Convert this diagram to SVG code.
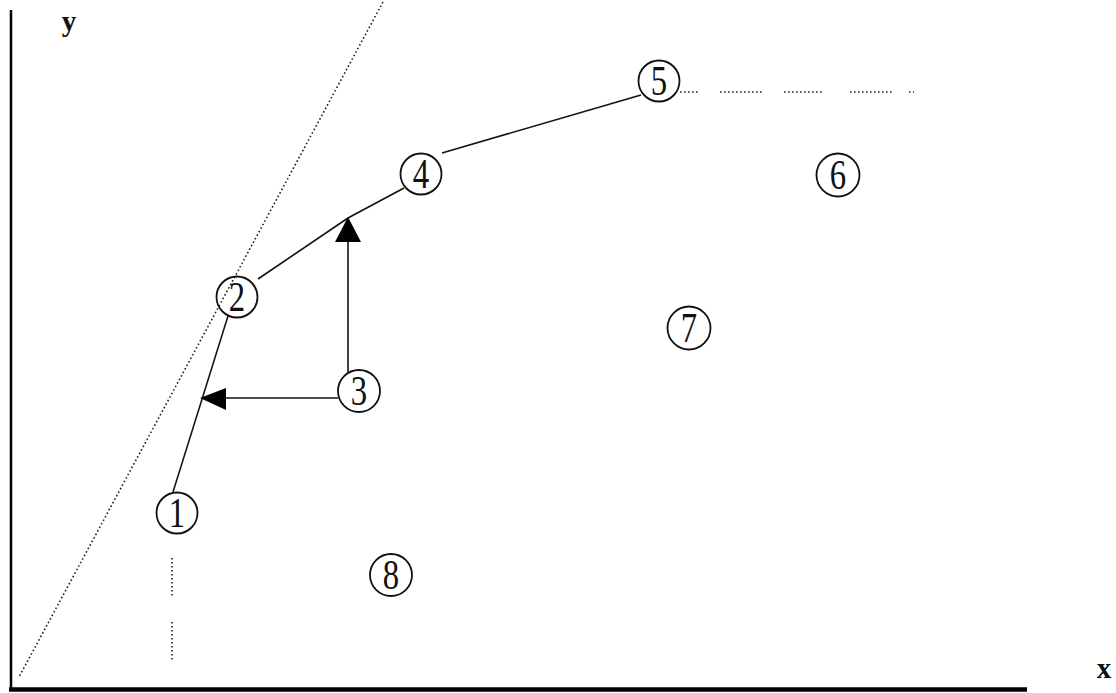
<svg xmlns="http://www.w3.org/2000/svg" width="1116" height="693" viewBox="0 0 1116 693">
  <style>
    .axis { stroke: #000; fill: none; }
    .solid { stroke: #111; stroke-width: 1.6; fill: none; }
    .dotted { stroke: #222; stroke-width: 1.6; stroke-dasharray: 1.6 2.4; fill: none; }
    .ring { stroke: #111; stroke-width: 1.8; fill: none; }
    .num { font-family: "Liberation Serif", "Times New Roman", serif; font-size: 42px; fill: #111; text-anchor: middle; }
    .lbl { font-family: "Liberation Serif", "Times New Roman", serif; font-size: 29px; font-weight: bold; fill: #111; text-anchor: middle; }
  </style>
  <rect width="1116" height="693" fill="#fff"/>

  <!-- axes -->
  <g id="axes">
    <line class="axis" x1="11" y1="10" x2="11" y2="690" stroke-width="2.5"/>
    <line class="axis" x1="9" y1="689.5" x2="1027" y2="689.5" stroke-width="4.5"/>
    <text class="lbl" x="69" y="31">y</text>
    <text class="lbl" x="1104" y="678">x</text>
  </g>

  <!-- connectors -->
  <g id="connectors">
    <!-- tangent -->
    <line class="dotted" x1="383" y1="2" x2="19" y2="677"/>
    <!-- curve segments -->
    <line class="solid" x1="173" y1="492" x2="228" y2="316"/>
    <line class="solid" x1="258" y1="279" x2="348" y2="218"/>
    <line class="solid" x1="348" y1="218" x2="404" y2="188"/>
    <line class="solid" x1="442" y1="153" x2="641" y2="95"/>
    <!-- horizontal asymptote -->
    <line class="dotted" x1="680" y1="92" x2="700" y2="92"/>
    <line class="dotted" x1="720" y1="92" x2="764" y2="92"/>
    <line class="dotted" x1="784" y1="92" x2="824" y2="92"/>
    <line class="dotted" x1="850" y1="92" x2="893" y2="92"/>
    <line class="dotted" x1="909" y1="92" x2="914" y2="92"/>
    <!-- vertical asymptote -->
    <line class="dotted" x1="172" y1="558" x2="172" y2="598"/>
    <line class="dotted" x1="172" y1="622" x2="172" y2="662"/>
    <!-- arrows from 3 -->
    <line class="solid" x1="338" y1="398" x2="226" y2="398"/>
    <path d="M200,398 L226,388 L226,410 Z" fill="#000"/>
    <line class="solid" x1="348" y1="372" x2="348" y2="242"/>
    <path d="M348,217 L335,242 L361,242 Z" fill="#000"/>
  </g>

  <!-- numbered states: narrow, tall digits inside rings -->
  <g id="n1"><circle class="ring" cx="177" cy="513" r="20.5"/><text class="num" transform="translate(177,527) scale(0.78,1)">1</text></g>
  <g id="n2"><circle class="ring" cx="237" cy="297" r="20.5"/><text class="num" transform="translate(237,311) scale(0.78,1)">2</text></g>
  <g id="n3"><circle class="ring" cx="359" cy="391" r="21"/><text class="num" transform="translate(359,405) scale(0.78,1)">3</text></g>
  <g id="n4"><circle class="ring" cx="421" cy="174" r="20.5"/><text class="num" transform="translate(421,188) scale(0.78,1)">4</text></g>
  <g id="n5"><circle class="ring" cx="659" cy="81" r="20.5"/><text class="num" transform="translate(659,95) scale(0.78,1)">5</text></g>
  <g id="n6"><circle class="ring" cx="838" cy="175" r="21.5"/><text class="num" transform="translate(838,189) scale(0.78,1)">6</text></g>
  <g id="n7"><circle class="ring" cx="689" cy="328" r="21.5"/><text class="num" transform="translate(689,342) scale(0.78,1)">7</text></g>
  <g id="n8"><circle class="ring" cx="391" cy="575" r="21"/><text class="num" transform="translate(391,589) scale(0.78,1)">8</text></g>
</svg>
